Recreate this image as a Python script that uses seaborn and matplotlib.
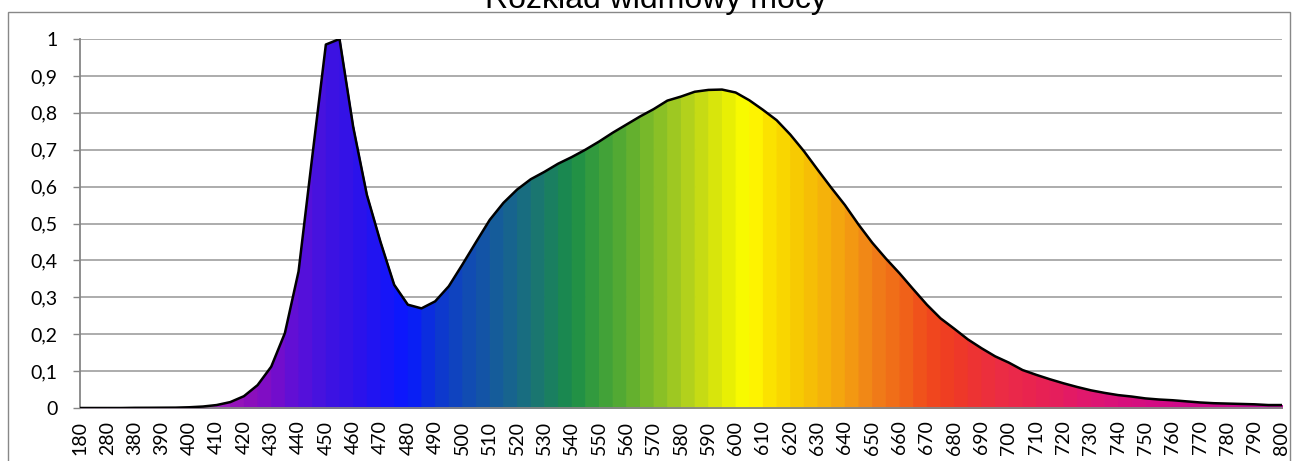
import numpy as np
import matplotlib
matplotlib.use("Agg")
import matplotlib.pyplot as plt
from matplotlib.ticker import FuncFormatter, FixedLocator
from matplotlib.patches import Rectangle
import seaborn as sns

# ---------------- data ----------------
title = "Rozkład widmowy mocy"
wavelengths = [180, 230, 280, 330] + list(range(380, 805, 5))
power = [
    0, 0, 0, 0,
    0.0005, 0.0006, 0.0008, 0.001,
    0.002, 0.004, 0.008, 0.016, 0.032, 0.062, 0.112, 0.203, 0.37, 0.68,
    0.985, 1.0, 0.762, 0.578, 0.45, 0.334, 0.28, 0.27, 0.289, 0.33,
    0.389, 0.45, 0.51, 0.556, 0.592, 0.62, 0.64, 0.662, 0.68, 0.70,
    0.722, 0.746, 0.768, 0.79, 0.81, 0.833, 0.844, 0.857, 0.862, 0.863,
    0.855, 0.834, 0.808, 0.78, 0.741, 0.696, 0.646, 0.597, 0.55, 0.497,
    0.448, 0.405, 0.365, 0.322, 0.28, 0.243, 0.215, 0.186, 0.162, 0.14,
    0.123, 0.103, 0.09, 0.078, 0.067, 0.057, 0.048, 0.041, 0.035, 0.031,
    0.026, 0.023, 0.021, 0.018, 0.015, 0.013, 0.012, 0.011, 0.01, 0.008,
    0.008,
]
yticks = [0, 0.1, 0.2, 0.3, 0.4, 0.5, 0.6, 0.7, 0.8, 0.9, 1.0]

# spectral colour anchors (style)
color_nm = [380, 400, 410, 420, 430, 440, 450, 460, 470, 480, 490, 500, 510, 520,
            530, 540, 550, 560, 570, 580, 590, 600, 605, 610, 620, 630, 640, 650,
            660, 670, 680, 690, 700, 710, 720, 730, 740, 760, 780, 800]
color_hex = ['#c060d0', '#b040c0', '#a020c0', '#9010b8', '#7a0cc8', '#5a10d8',
             '#4012e0', '#3012e8', '#1c14f4', '#0818ff', '#0c34d4', '#1048b8',
             '#1458a0', '#186888', '#1a7a68', '#1a8c48', '#3a9e3a', '#5aac30',
             '#80bc28', '#a8cc20', '#d0e010', '#f0f400', '#ffff00', '#fce800',
             '#f8d000', '#f5b808', '#f4a010', '#f08018', '#f06818', '#f04a1c',
             '#ee3a24', '#ec3038', '#ea2a48', '#e82250', '#e41c60', '#de1670',
             '#d8107a', '#d00a88', '#c8088c', '#b8089a']

# ---------------- figure ----------------
W, H = 1294, 461
sns.set_theme(style="white")
plt.rcParams['font.family'] = ['Lato', 'DejaVu Sans']

fig = plt.figure(figsize=(W / 100, H / 100), dpi=100)
left, right, top, bottom = 80, 1282, 39, 408
ax = fig.add_axes([left / W, 1 - bottom / H, (right - left) / W, (bottom - top) / H])

idx = np.arange(len(wavelengths))
rgb = np.array([matplotlib.colors.to_rgb(c) for c in color_hex])
mids = [0.5 * (wavelengths[i] + wavelengths[i + 1]) for i in range(len(wavelengths) - 1)]
seg_cols = [tuple(np.interp(m, color_nm, rgb[:, k]) for k in range(3)) for m in mids]

for i in range(len(idx) - 1):
    ax.fill_between(idx[i:i + 2], power[i:i + 2], 0, facecolor=seg_cols[i],
                    edgecolor=seg_cols[i], lw=0.8, zorder=2)

sns.lineplot(x=idx, y=power, color='black', lw=1.8, ax=ax, zorder=3)

ax.set_xlim(0, len(idx) - 1)
ax.set_ylim(0, 1)
ax.set_yticks(yticks)
ax.yaxis.set_major_formatter(FuncFormatter(lambda v, p: ('%g' % round(v, 2)).replace('.', ',')))
ax.yaxis.grid(True, color='#a6a6a6', lw=1.3, zorder=1)
ax.xaxis.grid(False)

xt = idx[::2]
ax.xaxis.set_major_locator(FixedLocator(xt))
ax.set_xticklabels([str(wavelengths[i]) for i in xt], rotation=90)
ax.tick_params(axis='x', length=0, pad=9, labelsize=14, colors='black')
ax.tick_params(axis='y', length=5, width=1, color='#868686', pad=11, labelsize=14,
               left=True, direction='out')
for lab in ax.get_yticklabels():
    lab.set_color('black')

for s in ['top', 'right']:
    ax.spines[s].set_visible(False)
for s in ['left', 'bottom']:
    ax.spines[s].set_color('#868686')
    ax.spines[s].set_linewidth(1.3)
ax.set_xlabel('')
ax.set_ylabel('')
ax.set_facecolor('white')

# outer chart border
fig.patches.append(Rectangle((7.5 / W, -0.1), (1289.5 - 7.5) / W, 1.1 - 12.5 / H,
                             transform=fig.transFigure, fill=False,
                             edgecolor='#888888', lw=1.0))

fig.text(656 / W, 1 - 8 / H, title, ha='center', va='baseline',
         fontsize=23, family=['Liberation Sans', 'DejaVu Sans'], color='black')

fig.savefig('out.png', dpi=100, facecolor='white')
